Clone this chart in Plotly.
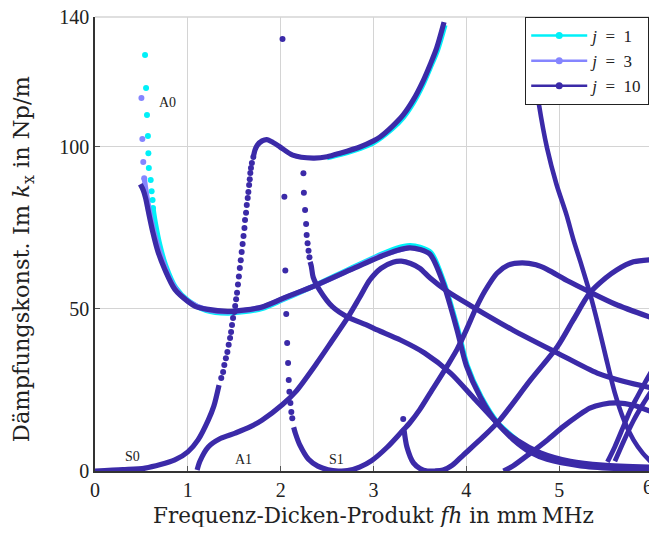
import plotly.graph_objects as go

# ---------------- data ----------------
# j = 10 (dark) ------------------------------------------------------
A0_x = [0.488, 0.52, 0.546, 0.575, 0.62, 0.68, 0.754, 0.86, 1.0, 1.08, 1.2, 1.43, 1.6, 1.8, 2.03, 2.39,
        2.75, 3.1, 3.25, 3.39, 3.5, 3.61, 3.75, 3.9, 4.0, 4.15, 4.33, 4.55, 4.8, 5.12, 5.47, 6.0]
A0_y = [88.4, 86.6, 84.1, 80.0, 74.0, 67.5, 62.0, 56.0, 52.3, 50.8, 49.9, 49.2, 49.6, 50.6, 53.3, 57.4,
        62.0, 66.4, 68.0, 68.8, 68.3, 66.8, 58.0, 43.5, 32.5, 22.8, 14.8, 9.4, 5.6, 3.0, 1.8, 1.2]

S0_low_x = [0.0, 0.3, 0.54, 0.86, 1.0, 1.11, 1.22, 1.28, 1.336]
S0_low_y = [0.0, 0.4, 0.9, 3.4, 5.9, 9.6, 15.7, 20.0, 26.5]
S0_dot_x = [1.36, 1.38, 1.393, 1.41, 1.426, 1.44, 1.455, 1.466, 1.476, 1.487, 1.50, 1.51, 1.52, 1.53, 1.54,
            1.55, 1.56, 1.57, 1.58, 1.59, 1.60, 1.61, 1.616, 1.627, 1.635, 1.645, 1.652, 1.66, 1.667,
            1.673, 1.68, 1.69, 1.706]
S0_dot_y = [28.7, 30.5, 32.7, 34.8, 36.7, 38.9, 41.0, 42.9, 45.0, 47.2, 49.0, 50.9, 53.0, 55.0, 57.5,
            60.0, 62.6, 65.0, 67.5, 70.0, 72.5, 74.9, 77.4, 79.6, 82.0, 84.2, 86.0, 88.2, 90.0,
            91.9, 93.4, 95.0, 96.8]
S0_up_x = [1.706, 1.724, 1.749, 1.8, 1.85, 1.9, 1.99, 2.13, 2.35, 2.5, 2.64, 2.86, 3.0, 3.07, 3.2, 3.32,
           3.43, 3.53, 3.61, 3.68, 3.76]
S0_up_y = [96.8, 99.0, 100.5, 101.8, 102.2, 101.6, 100.0, 97.4, 96.5, 96.9, 98.0, 100.0, 101.8, 103.0,
           106.2, 109.8, 114.5, 120.0, 125.3, 130.4, 138.4]

A1_x = [1.1, 1.13, 1.22, 1.35, 1.51, 1.67, 1.8, 2.02, 2.16, 2.39, 2.55, 2.72, 2.85, 2.96, 3.08, 3.21,
        3.3, 3.4, 3.5, 3.61, 3.8, 4.07, 4.5, 4.98, 5.41, 5.7, 6.0]
A1_y = [0.3, 3.0, 7.4, 10.0, 11.7, 13.6, 15.7, 20.5, 24.4, 33.3, 40.0, 47.2, 53.5, 58.9, 62.5, 64.4,
        64.7, 64.0, 62.5, 59.5, 55.3, 50.6, 43.5, 36.4, 30.2, 27.6, 25.6]

S1d_dot_x = [2.245, 2.25, 2.263, 2.274, 2.28, 2.29, 2.30, 2.31]
S1d_dot_y = [91.8, 85.8, 80.5, 76.2, 72.8, 70.2, 67.9, 65.9]
S1d_x = [2.317, 2.33, 2.35, 2.42, 2.56, 2.72, 2.93, 3.04, 3.29, 3.55, 3.83, 4.07, 4.33, 4.5, 4.7, 4.87,
         5.23, 5.6, 6.0]
S1d_y = [64.5, 63.2, 59.8, 55.8, 50.6, 47.5, 45.0, 43.5, 40.4, 36.4, 30.2, 22.8, 14.8, 9.8, 5.6, 3.6,
         1.6, 0.8, 0.4]

S1_dot_x = [2.02, 2.04, 2.05, 2.06, 2.07, 2.08, 2.087, 2.094, 2.105, 2.115, 2.125]
S1_dot_y = [133.2, 84.6, 61.8, 48.4, 39.5, 33.3, 28.1, 24.4, 21.0, 18.2, 16.3]
S1_x = [2.14, 2.16, 2.21, 2.3, 2.4, 2.51, 2.62, 2.72, 2.85, 2.98, 3.15, 3.3, 3.39, 3.5, 3.61, 3.79,
        3.9, 4.0, 4.1, 4.2, 4.33, 4.45, 4.6, 4.75, 4.87, 5.1, 5.33, 5.6, 6.0]
S1_y = [13.5, 11.5, 7.8, 3.6, 1.5, 0.4, 0.0, 0.1, 1.2, 3.2, 7.4, 12.0, 14.8, 19.0, 24.0, 32.2,
        37.5, 43.5, 50.0, 55.5, 61.0, 63.5, 64.2, 63.6, 62.2, 58.5, 55.2, 51.5, 47.2]

S2_dot_x = [3.32]
S2_dot_y = [16.0]
S2_x = [3.33, 3.36, 3.43, 3.5, 3.58, 3.66, 3.75, 3.85, 3.97, 4.18, 4.36, 4.69, 4.98, 5.15, 5.33, 5.5,
        5.62, 5.8, 6.0]
S2_y = [12.5, 7.4, 2.5, 0.8, 0.0, 0.0, 0.3, 1.8, 5.0, 10.5, 15.7, 28.0, 38.3, 46.5, 54.9, 59.5,
        62.0, 64.5, 65.2]

M6_x = [4.67, 4.72, 4.78, 4.87, 4.97, 5.08, 5.155, 5.24, 5.33, 5.42, 5.5, 5.6, 5.7, 5.8, 5.9, 6.0]
M6_y = [139.6, 126.0, 113.4, 99.5, 88.5, 78.9, 71.2, 63.5, 54.9, 45.0, 35.5, 24.0, 15.5, 9.6, 5.5, 2.5]

M7_x = [4.4, 4.5, 4.69, 4.87, 5.04, 5.2, 5.33, 5.47, 5.62, 5.8, 6.0]
M7_y = [0.0, 1.5, 5.5, 9.5, 13.6, 17.0, 19.4, 20.6, 21.0, 20.3, 18.2]

M8_x = [5.52, 5.6, 5.69, 5.77, 5.84, 5.92, 6.0]
M8_y = [2.8, 7.5, 13.6, 19.0, 22.8, 27.0, 31.0]

M9_x = [5.6, 5.7, 5.8, 5.9, 6.0]
M9_y = [3.0, 9.5, 15.5, 20.5, 25.0]

# j = 1 (cyan) -------------------------------------------------------
A0j1_dot_x = [0.539, 0.55, 0.56, 0.57, 0.575, 0.58, 0.60, 0.61, 0.62, 0.625]
A0j1_dot_y = [128.3, 118.1, 109.8, 103.3, 98.0, 93.4, 89.7, 86.3, 83.6, 81.1]
A0j1_x = [0.625, 0.65, 0.7, 0.76, 0.87, 1.0, 1.2, 1.43, 1.6, 1.8, 2.03, 2.39, 2.75, 3.1, 3.25, 3.39,
          3.5, 3.62, 3.76, 3.91, 4.01, 4.16, 4.34, 4.55]
A0j1_y = [81.1, 76.5, 69.5, 63.5, 56.5, 52.6, 49.5, 48.7, 49.1, 50.1, 52.9, 57.5, 62.4, 67.0, 68.7, 69.5,
          69.0, 67.3, 58.0, 43.5, 32.5, 22.8, 14.8, 9.4]
S0j1_x = [2.5, 2.64, 2.86, 3.0, 3.2, 3.32, 3.43, 3.53, 3.61, 3.69, 3.77]
S0j1_y = [96.6, 97.6, 99.5, 101.2, 105.5, 109.0, 113.6, 119.0, 124.3, 129.8, 137.5]

# j = 3 (light violet) -----------------------------------------------
A0j3_dot_x = [0.50, 0.51, 0.52, 0.53]
A0j3_dot_y = [115.0, 102.4, 95.3, 90.3]
A0j3_x = [0.53, 0.56, 0.6, 0.66, 0.72, 0.8, 0.9, 1.0, 1.2, 1.43, 1.6, 1.8, 2.03, 2.39, 2.75, 3.1, 3.39]
A0j3_y = [90.3, 84.5, 78.0, 71.0, 65.5, 59.5, 55.0, 52.4, 49.8, 49.1, 49.5, 50.5, 53.2, 57.4, 62.1, 66.6,
          69.0]

mode_labels = ["A0", "S0", "A1", "S1"]
label_x = [0.78, 0.40, 1.60, 2.60]
label_y = [113.5, 4.6, 3.4, 3.7]

legend_names = ["<i>j</i>\u2002=\u20021", "<i>j</i>\u2002=\u20023", "<i>j</i>\u2002=\u200210"]

x_ticks = [0, 1, 2, 3, 4, 5, 6]
x_ticktext = ["0", "1", "2", "3", "4", "5", ""]   # "6" is written separately at the right edge
y_ticks = [0, 50, 100, 140]

# ---------------- styling ----------------
C1 = "#00f0f8"
C3 = "#8585ff"
C10 = "#3b2aa8"
GRID = "#d4d4d4"
LW = 5.2
DOT = 6

fig = go.Figure()


def add_line(x, y, color, width=LW):
    fig.add_trace(go.Scatter(x=x, y=y, mode="lines", showlegend=False, hoverinfo="skip",
                             line=dict(color=color, width=width, shape="spline", smoothing=0.8)))


def add_dots(x, y, color, size=DOT):
    fig.add_trace(go.Scatter(x=x, y=y, mode="markers", showlegend=False, hoverinfo="skip",
                             marker=dict(color=color, size=size, line=dict(width=0))))


# j = 1 underneath
add_line(A0j1_x, A0j1_y, C1)
add_dots(A0j1_dot_x, A0j1_dot_y, C1)
add_line(S0j1_x, S0j1_y, C1)
# j = 3
add_line(A0j3_x, A0j3_y, C3)
add_dots(A0j3_dot_x, A0j3_dot_y, C3)

# j = 10
add_line(A0_x, A0_y, C10)
add_line(S0_low_x, S0_low_y, C10)
add_dots(S0_dot_x, S0_dot_y, C10)
add_line(S0_up_x, S0_up_y, C10)
add_line(A1_x, A1_y, C10)
add_dots(S1d_dot_x, S1d_dot_y, C10)
add_line(S1d_x, S1d_y, C10)
add_dots(S1_dot_x, S1_dot_y, C10)
add_line(S1_x, S1_y, C10)
add_dots(S2_dot_x, S2_dot_y, C10)
add_line(S2_x, S2_y, C10)
add_line(M6_x, M6_y, C10, width=4.6)
add_line(M7_x, M7_y, C10)
add_line(M8_x, M8_y, C10, width=4.8)
add_line(M9_x, M9_y, C10, width=4.8)

# legend entries
for name, col in zip(legend_names, [C1, C3, C10]):
    fig.add_trace(go.Scatter(x=[None], y=[None], mode="lines+markers", name=name,
                             line=dict(color=col, width=2.5), marker=dict(color=col, size=7)))

serif = "Liberation Serif"
tick_font = dict(family=serif, size=20, color="#222")

for t, lx, ly in zip(mode_labels, label_x, label_y):
    fig.add_annotation(x=lx, y=ly, text=t, showarrow=False, font=dict(family=serif, size=14, color="#222"))

# last x tick label, nudged so it stays inside the window
fig.add_annotation(x=x_ticks[-1], xref="x", yref="paper", y=0, yshift=-16, xshift=-4,
                   text="6", showarrow=False, font=tick_font, xanchor="center", yanchor="middle")

fig.add_annotation(xref="paper", yref="paper", x=0.5, y=-0.099,
                   text="Frequenz-Dicken-Produkt <i>fh</i> in mm\u2009MHz", showarrow=False,
                   font=dict(family="DejaVu Serif", size=21.5, color="#222"),
                   xanchor="center", yanchor="middle")
fig.add_annotation(xref="paper", yref="paper", x=-0.129, y=0.467,
                   text="Dämpfungskonst. Im <i>k</i><sub>x</sub> in Np/m", showarrow=False,
                   textangle=-90, font=dict(family="DejaVu Serif", size=22.5, color="#222"),
                   xanchor="center", yanchor="middle")

# light frame on the top and right edge (grid lines at 140 and 6)
fig.add_shape(type="line", xref="paper", yref="paper", x0=0, x1=1, y0=1, y1=1,
              line=dict(color=GRID, width=1.5), layer="below")
fig.add_shape(type="line", xref="paper", yref="paper", x0=1, x1=1, y0=0, y1=1,
              line=dict(color=GRID, width=1.5), layer="below")

axis_common = dict(showgrid=True, gridcolor=GRID, gridwidth=1.3, zeroline=False,
                   showline=True, linecolor="#333", linewidth=1.5, mirror=False,
                   ticks="inside", ticklen=5, tickcolor="#555", tickwidth=1, automargin=False,
                   ticklabeloverflow="allow", tickfont=tick_font)

fig.update_xaxes(range=[0, 6], tickvals=x_ticks, ticktext=x_ticktext, **axis_common)
fig.update_yaxes(range=[0, 140], tickvals=y_ticks, **axis_common)

# the page body adds an 8 px offset; keep the figure inside the window without scrolling
fig.update_layout(
    width=649, height=519,
    margin=dict(l=87, r=5, t=9, b=56, autoexpand=False),
    plot_bgcolor="white", paper_bgcolor="white",
    legend=dict(x=0.995, y=1, xanchor="right", yanchor="top", bgcolor="white", itemwidth=56,
                bordercolor="#222", borderwidth=1, font=dict(family=serif, size=17, color="#222")),
)

fig.write_html("out.html")
